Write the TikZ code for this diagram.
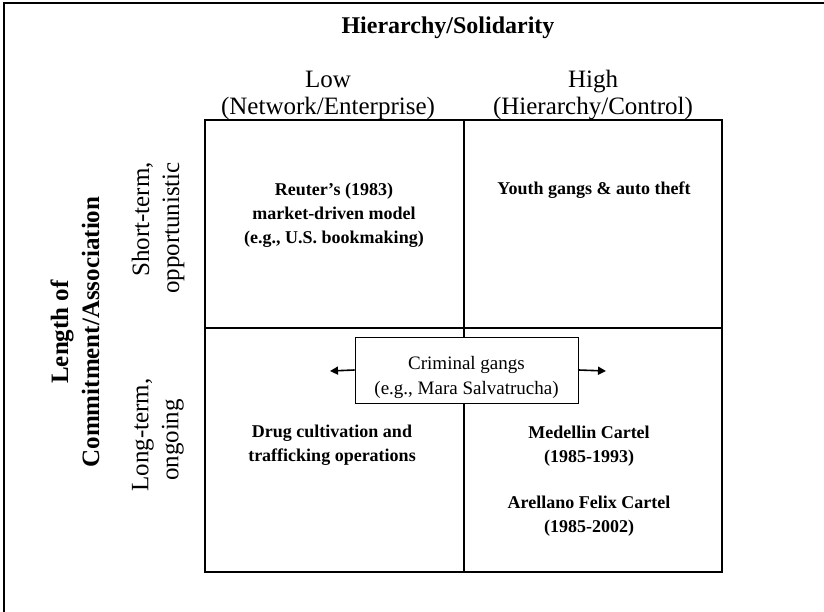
\documentclass[tikz,border=0pt]{standalone}
\usepackage{fontspec}
\setmainfont{Liberation Serif}
\usetikzlibrary{arrows.meta,positioning}

\begin{document}
\begin{tikzpicture}[
  x=1pt, y=-1pt,
  head/.style={font=\fontsize{24}{28}\selectfont\bfseries, align=center, inner sep=0pt},
  colhead/.style={font=\fontsize{25}{27}\selectfont, align=center, inner sep=0pt},
  rowhead/.style={font=\fontsize{25}{30}\selectfont, align=center, rotate=90, inner sep=0pt},
  axislabel/.style={rowhead, font=\fontsize{25}{31}\selectfont\bfseries},
  cell/.style={font=\fontsize{18}{24}\selectfont\bfseries, align=center, inner sep=0pt},
  gangbox/.style={rectangle, draw, fill=white, line width=0.9pt, minimum width=223pt, minimum height=66pt, font=\fontsize{19}{25}\selectfont, align=center},
  gridline/.style={line width=1.6pt},
  arr/.style={-{Triangle[length=8pt,width=8pt]}, line width=1.6pt},
]
  \useasboundingbox (0,0) rectangle (824,612);

  % Frame
  \draw[line width=1.2pt] (4,615) -- (4,3) -- (830,3);

  % Headings
  \node[head] (title) at (448,28) {Hierarchy/Solidarity};
  \node[colhead] (low) at (328,95) {Low\\(Network/Enterprise)};
  \node[colhead] (high) at (593,95) {High\\(Hierarchy/Control)};

  \node[axislabel] (axis) at (75,332) {Length of\\Commitment/Association};
  \node[rowhead, align=right] (short) at (158,228) {Short-term,\\opportunistic};
  \node[rowhead] (long) at (158,435) {Long-term,\\ongoing\hspace*{10pt}};

  % Quadrants
  \coordinate (nw) at (205,120);
  \coordinate (se) at (722,572);
  \coordinate (mid) at (464,328);
  \draw[gridline] (nw) rectangle (se);
  \draw[gridline] (mid |- nw) -- (mid |- se);
  \draw[gridline] (mid -| nw) -- (mid -| se);

  \node[cell] (reuter) at (334,215) {Reuter’s (1983)\\market-driven model\\(e.g., U.S. bookmaking)};
  \node[cell] (youth) at (594,190) {Youth gangs \& auto theft};
  \node[cell] (drug) at (332,445) {Drug cultivation and\\trafficking operations};
  \node[cell] (cartels) at (589,481) {Medellin Cartel\\(1985-1993)\\[22pt]Arellano Felix Cartel\\(1985-2002)};

  % Criminal gangs, spanning both columns
  \node[gangbox] (gangs) at (466.5,370) {\rule{0pt}{28pt}Criminal gangs\\(e.g., Mara Salvatrucha)};
  \coordinate (ltip) at (330,371);
  \coordinate (rtip) at (606,371);
  \draw[arr] (gangs.west) -- (ltip);
  \draw[arr] (gangs.east) -- (rtip);

\end{tikzpicture}
\end{document}
